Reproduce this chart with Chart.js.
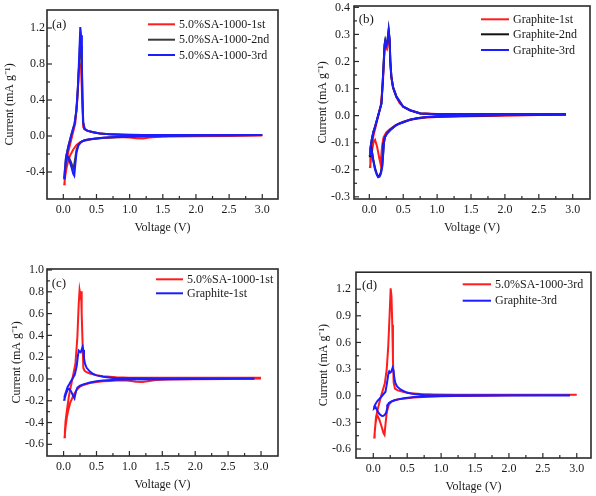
<!DOCTYPE html>
<html>
<head>
<meta charset="utf-8">
<script src="https://cdn.jsdelivr.net/npm/chart.js@4.4.0/dist/chart.umd.min.js"></script>
<style>
	body { margin: 0; background: #fff; width: 596px; height: 496px; position: relative; overflow: hidden; }
	canvas { position: absolute; }
</style>
</head>
<body>
<canvas id="pa"></canvas>
<canvas id="pb"></canvas>
<canvas id="pc"></canvas>
<canvas id="pd"></canvas>
<script>
// CV curves, [voltage, current]: cathodic scan first, then anodic scan
var sa1st = [
	[3.0,0.005],[2.5,0.0],[2.0,-0.003],[1.6,-0.005],[1.4,-0.01],[1.3,-0.018],[1.2,-0.027],[1.1,-0.025],[1.0,-0.016],[0.9,-0.013],[0.8,-0.015],[0.7,-0.018],[0.6,-0.022],[0.5,-0.028],[0.4,-0.038],[0.3,-0.055],[0.25,-0.07],[0.2,-0.1],[0.15,-0.15],[0.1,-0.22],[0.07,-0.29],[0.05,-0.35],[0.03,-0.44],[0.015,-0.535],
	[0.02,-0.48],[0.03,-0.39],[0.05,-0.29],[0.08,-0.16],[0.13,-0.01],[0.18,0.14],[0.21,0.39],[0.23,0.69],[0.243,0.815],[0.255,0.77],[0.265,0.805],[0.275,0.6],[0.29,0.3],[0.3,0.1],[0.32,0.075],[0.35,0.062],[0.4,0.05],[0.5,0.035],[0.6,0.025],[0.8,0.016],[1.0,0.012],[1.5,0.01],[2.0,0.01],[2.5,0.01],[2.9,0.01],[3.0,0.012]
];
var sa2nd = [
	[3.0,0.01],[2.5,0.008],[2.0,0.005],[1.5,0.0],[1.2,-0.005],[1.0,-0.008],[0.8,-0.013],[0.6,-0.02],[0.5,-0.027],[0.4,-0.036],[0.32,-0.048],[0.27,-0.065],[0.23,-0.095],[0.2,-0.15],[0.175,-0.27],[0.155,-0.36],[0.135,-0.33],[0.11,-0.28],[0.085,-0.24],[0.065,-0.23],[0.045,-0.26],[0.03,-0.34],[0.015,-0.46],
	[0.02,-0.41],[0.04,-0.24],[0.074,-0.12],[0.12,0.01],[0.17,0.14],[0.197,0.28],[0.22,0.52],[0.24,0.82],[0.255,1.08],[0.268,1.0],[0.28,0.72],[0.29,0.38],[0.3,0.15],[0.32,0.08],[0.36,0.06],[0.45,0.042],[0.55,0.028],[0.7,0.02],[0.9,0.015],[1.2,0.012],[1.6,0.01],[2.0,0.01],[2.5,0.01],[3.0,0.012]
];
var sa3rd = [
	[3.0,0.01],[2.5,0.008],[2.0,0.005],[1.5,0.0],[1.2,-0.004],[1.0,-0.006],[0.8,-0.012],[0.6,-0.02],[0.5,-0.027],[0.4,-0.036],[0.32,-0.048],[0.27,-0.065],[0.23,-0.1],[0.2,-0.18],[0.18,-0.32],[0.165,-0.44],[0.15,-0.42],[0.12,-0.34],[0.09,-0.27],[0.065,-0.23],[0.045,-0.25],[0.03,-0.33],[0.015,-0.47],
	[0.02,-0.42],[0.04,-0.24],[0.074,-0.124],[0.12,0.01],[0.17,0.14],[0.197,0.29],[0.22,0.55],[0.24,0.9],[0.256,1.21],[0.268,1.12],[0.28,0.8],[0.29,0.4],[0.3,0.15],[0.32,0.08],[0.36,0.06],[0.45,0.042],[0.55,0.028],[0.7,0.02],[0.9,0.015],[1.2,0.012],[1.6,0.01],[2.0,0.01],[2.5,0.01],[3.0,0.012]
];
var gr1st = [
	[2.9,0.003],[2.5,0.002],[2.0,0.0],[1.5,-0.002],[1.0,-0.005],[0.8,-0.008],[0.6,-0.015],[0.5,-0.022],[0.4,-0.033],[0.3,-0.05],[0.25,-0.062],[0.21,-0.08],[0.19,-0.11],[0.175,-0.15],[0.165,-0.178],[0.145,-0.155],[0.115,-0.115],[0.085,-0.09],[0.06,-0.1],[0.035,-0.14],[0.01,-0.19],
	[0.015,-0.16],[0.035,-0.12],[0.06,-0.075],[0.09,-0.045],[0.13,-0.002],[0.17,0.04],[0.2,0.12],[0.215,0.2],[0.23,0.26],[0.245,0.25],[0.26,0.245],[0.275,0.27],[0.29,0.295],[0.3,0.265],[0.31,0.19],[0.325,0.14],[0.35,0.102],[0.4,0.068],[0.45,0.045],[0.5,0.033],[0.6,0.02],[0.75,0.009],[1.0,0.006],[1.5,0.005],[2.0,0.005],[2.5,0.005],[2.9,0.005]
];
var gr2nd = [
	[2.9,0.004],[2.5,0.003],[2.0,0.002],[1.5,0.0],[1.0,-0.003],[0.85,-0.005],[0.7,-0.01],[0.6,-0.015],[0.45,-0.029],[0.38,-0.038],[0.305,-0.054],[0.26,-0.066],[0.23,-0.08],[0.215,-0.1],[0.205,-0.135],[0.19,-0.185],[0.17,-0.21],[0.15,-0.222],[0.13,-0.225],[0.11,-0.215],[0.085,-0.195],[0.06,-0.165],[0.035,-0.125],[0.01,-0.15],
	[0.015,-0.125],[0.035,-0.09],[0.06,-0.06],[0.085,-0.04],[0.13,0.0],[0.18,0.045],[0.207,0.17],[0.225,0.262],[0.235,0.278],[0.25,0.262],[0.265,0.272],[0.285,0.318],[0.3,0.28],[0.31,0.2],[0.325,0.145],[0.35,0.105],[0.4,0.07],[0.5,0.033],[0.6,0.02],[0.75,0.008],[1.0,0.005],[1.5,0.005],[2.0,0.005],[2.5,0.005],[2.9,0.005]
];
var gr3rd = [
	[2.9,0.004],[2.5,0.003],[2.0,0.002],[1.5,0.0],[1.0,-0.003],[0.85,-0.005],[0.7,-0.01],[0.6,-0.015],[0.45,-0.029],[0.38,-0.038],[0.305,-0.054],[0.26,-0.066],[0.23,-0.08],[0.215,-0.1],[0.205,-0.14],[0.19,-0.19],[0.17,-0.215],[0.15,-0.226],[0.13,-0.228],[0.11,-0.218],[0.085,-0.2],[0.06,-0.17],[0.035,-0.13],[0.01,-0.145],
	[0.015,-0.12],[0.035,-0.09],[0.06,-0.06],[0.085,-0.04],[0.13,0.0],[0.18,0.045],[0.207,0.168],[0.225,0.26],[0.235,0.275],[0.25,0.26],[0.265,0.27],[0.285,0.315],[0.3,0.28],[0.31,0.2],[0.325,0.145],[0.35,0.105],[0.4,0.07],[0.5,0.033],[0.6,0.02],[0.75,0.008],[1.0,0.005],[1.5,0.005],[2.0,0.005],[2.5,0.005],[2.9,0.005]
];

var xTicks = [0, 0.5, 1.0, 1.5, 2.0, 2.5, 3.0];
var yTicksA = [-0.4, 0, 0.4, 0.8, 1.2];
var yTicksB = [-0.3, -0.2, -0.1, 0, 0.1, 0.2, 0.3, 0.4];
var yTicksC = [-0.6, -0.4, -0.2, 0, 0.2, 0.4, 0.6, 0.8, 1.0];
var yTicksD = [-0.6, -0.3, 0, 0.3, 0.6, 0.9, 1.2];

var labelsA = ['5.0%SA-1000-1st', '5.0%SA-1000-2nd', '5.0%SA-1000-3rd'];
var labelsB = ['Graphite-1st', 'Graphite-2nd', 'Graphite-3rd'];
var labelsC = ['5.0%SA-1000-1st', 'Graphite-1st'];
var labelsD = ['5.0%SA-1000-3rd', 'Graphite-3rd'];

var RED = '#ff1c1c', BLUE = '#1c1cff', GRAY = '#3a3a3a', BLACK = '#111111';
var FONT = 'Liberation Serif, Times New Roman, serif';
var TEXT = '#1a1a1a';

function pts(arr) {
	return arr.map(function(p) { return { x: p[0], y: p[1] }; });
}

function panel(id, g, series, labels, colors, yTicks) {
	var cv = document.getElementById(id);
	var top = g.box[1] - 12;
	cv.width = g.box[2] + 12 - g.cx;
	cv.height = g.box[3] + 49 - top;
	cv.style.left = g.cx + 'px';
	cv.style.top = top + 'px';

	var datasets = series.map(function(s, i) {
		return {
			label: labels[i],
			data: pts(s),
			showLine: true,
			borderColor: colors[i],
			borderWidth: 2,
			pointRadius: 0,
			fill: false,
			order: series.length - i
		};
	});

	var frame = {
		id: 'frame',
		afterDraw: function(chart) {
			var ctx = chart.ctx, a = chart.chartArea;
			var xs = chart.scales.x, ys = chart.scales.y;
			ctx.save();
			ctx.strokeStyle = '#2a2a2a';
			ctx.lineWidth = 1.6;
			ctx.strokeRect(a.left, a.top, a.right - a.left, a.bottom - a.top);
			ctx.lineWidth = 1.2;
			function seg(x1, y1, x2, y2) {
				ctx.beginPath(); ctx.moveTo(x1, y1); ctx.lineTo(x2, y2); ctx.stroke();
			}
			// inward ticks, major + minor
			xTicks.forEach(function(v, i) {
				var px = xs.getPixelForValue(v);
				seg(px, a.bottom, px, a.bottom - 5);
				if (i < xTicks.length - 1) {
					var m = xs.getPixelForValue((v + xTicks[i + 1]) / 2);
					seg(m, a.bottom, m, a.bottom - 3);
				}
			});
			yTicks.forEach(function(v, i) {
				var py = ys.getPixelForValue(v);
				seg(a.left, py, a.left + 5, py);
				if (i < yTicks.length - 1) {
					var m = ys.getPixelForValue((v + yTicks[i + 1]) / 2);
					seg(a.left, m, a.left + 3, m);
				}
			});
			// legend
			var ox = g.cx, oy = top;
			ctx.font = '12px ' + FONT;
			ctx.textBaseline = 'middle';
			ctx.fillStyle = TEXT;
			labels.forEach(function(t, i) {
				var y = g.legY[i] - oy;
				ctx.strokeStyle = colors[i];
				ctx.lineWidth = 2;
				seg(g.legX[0] - ox, y, g.legX[1] - ox, y);
				ctx.fillText(t, g.legX[2] - ox, y + 0.5);
			});
			ctx.font = '13px ' + FONT;
			ctx.fillText(g.label, g.labX - ox, g.labY - oy);
			ctx.restore();
		}
	};

	return new Chart(cv, {
		type: 'scatter',
		data: { datasets: datasets },
		plugins: [frame],
		options: {
			responsive: false,
			animation: false,
			layout: { padding: { top: 12, right: 12, bottom: 0, left: 0 } },
			plugins: { legend: { display: false }, tooltip: { enabled: false } },
			scales: {
				x: {
					type: 'linear',
					min: g.xr[0], max: g.xr[1],
					afterBuildTicks: function(s) { s.ticks = xTicks.map(function(v) { return { value: v }; }); },
					afterFit: function(s) { s.height = 49; },
					grid: { display: false, drawTicks: false },
					border: { display: false },
					ticks: {
						padding: 4, color: TEXT, font: { family: FONT, size: 12 },
						callback: function(v) { return v.toFixed(1); }
					},
					title: {
						display: true, text: 'Voltage (V)', color: TEXT,
						font: { family: FONT, size: 12 }, padding: { top: 0, bottom: 12.8 }
					}
				},
				y: {
					type: 'linear',
					min: g.yr[0], max: g.yr[1],
					afterBuildTicks: function(s) { s.ticks = yTicks.map(function(v) { return { value: v }; }); },
					afterFit: function(s) { s.width = g.box[0] - g.cx; },
					grid: { display: false, drawTicks: false },
					border: { display: false },
					ticks: {
						padding: g.yPad, color: TEXT, font: { family: FONT, size: 12 },
						callback: function(v) { return v.toFixed(1); }
					},
					title: {
						display: true, text: 'Current (mA g\u207B\u00B9)', color: TEXT,
						font: { family: FONT, size: 12 }, padding: { top: g.titleX - g.cx - 7.2, bottom: 0 }
					}
				}
			}
		}
	});
}

panel('pa', {
	box: [47, 10, 278, 199], cx: 0, titleX: 10, yPad: 2,
	xr: [-0.246, 3.237], yr: [-0.7, 1.4],
	legX: [148, 175, 179], legY: [24.3, 39.7, 55], label: '(a)', labX: 52, labY: 24.5
}, [sa1st, sa2nd, sa3rd], labelsA, [RED, GRAY, BLUE], yTicksA);

panel('pb', {
	box: [354, 6, 590, 199], cx: 298, titleX: 322.7, yPad: 4,
	xr: [-0.226, 3.255], yr: [-0.308, 0.405],
	legX: [481, 509, 513], legY: [19.3, 34.3, 50], label: '(b)', labX: 358.7, labY: 19.5
}, [gr1st, gr2nd, gr3rd], labelsB, [RED, BLACK, BLUE], yTicksB);

panel('pc', {
	box: [47, 269, 278, 456], cx: 0, titleX: 16.5, yPad: 3,
	xr: [-0.252, 3.258], yr: [-0.707, 1.009],
	legX: [156, 183, 187], legY: [279.3, 293.3], label: '(c)', labX: 51.7, labY: 283.5
}, [sa1st, gr1st], labelsC, [RED, BLUE], yTicksC);

panel('pd', {
	box: [356, 272, 591, 458], cx: 298, titleX: 324, yPad: 5,
	xr: [-0.255, 3.21], yr: [-0.701, 1.391],
	legX: [462.7, 491, 495], legY: [284.3, 300.7], label: '(d)', labX: 362, labY: 285.5
}, [sa3rd, gr3rd], labelsD, [RED, BLUE], yTicksD);
</script>
</body>
</html>
